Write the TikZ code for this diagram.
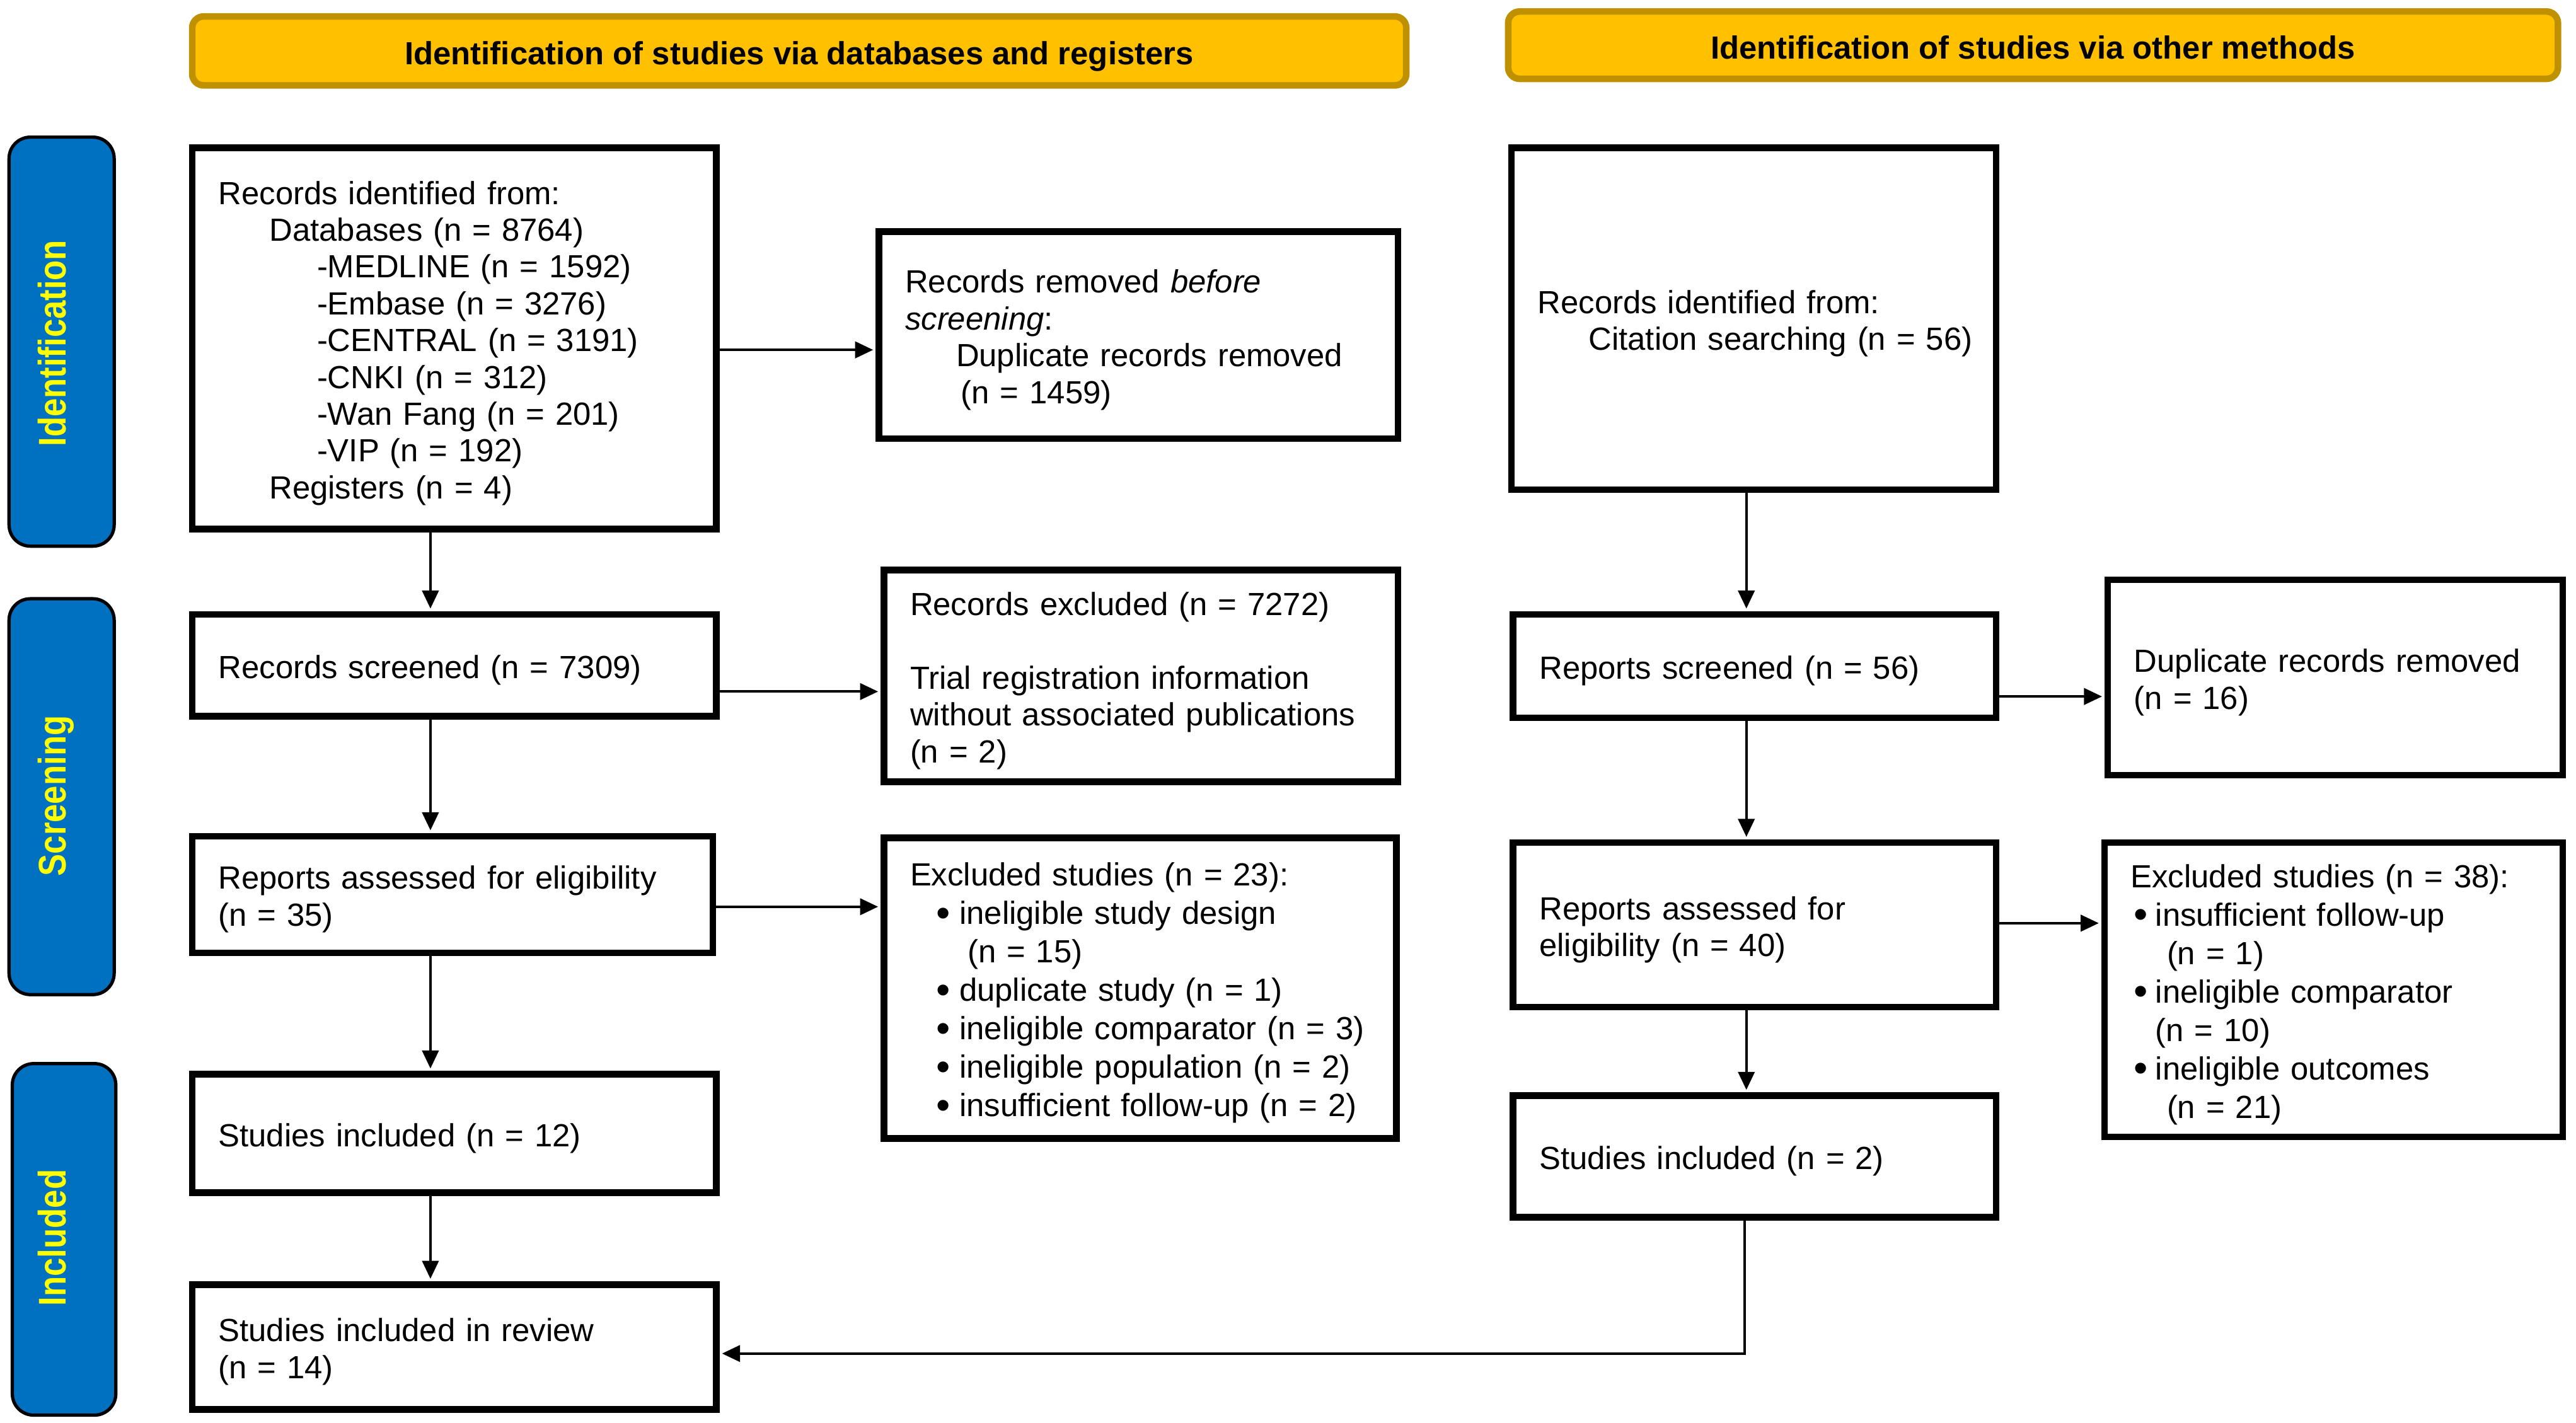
\documentclass[tikz,border=0pt]{standalone}
\usepackage{fontspec}
\usepackage{graphicx}
\setmainfont{Liberation Sans}
\usetikzlibrary{arrows.meta}
\definecolor{hdrfill}{HTML}{FFC000}
\definecolor{hdrline}{HTML}{BF9000}
\definecolor{sideblue}{HTML}{0070C0}
\definecolor{sideyellow}{HTML}{FFFF00}
\newcommand{\bul}{\raisebox{-1.4pt}{\scalebox{1.25}{•}}}
\begin{document}
\begin{tikzpicture}[x=1pt,y={(0pt,-1pt)},
  bx/.style={draw, line width=4pt, align=left, inner xsep=16pt, inner ysep=0pt,
    font=\fontsize{19.5}{22.4}\selectfont, execute at begin node={\rule{0pt}{20pt}}},
  bxl/.style={bx, font=\fontsize{19.5}{23.4}\selectfont},
  hdr/.style={draw=hdrline, fill=hdrfill, line width=4pt, rounded corners=7pt,
    font=\fontsize{19.5}{22}\selectfont\bfseries, inner sep=0pt,
    text height=17pt, text depth=0pt},
  side/.style={draw=black, line width=2pt, fill=sideblue, rounded corners=13pt, inner sep=0pt},
  sidetxt/.style={rotate=90, anchor=base, text=sideyellow,
    font=\fontsize{23.5}{26}\selectfont\bfseries, inner sep=0pt},
  arr/.style={line width=1.6pt, -{Triangle[length=11pt,width=10pt]}, shorten >=1.5pt}
]
\useasboundingbox (0,0) rectangle (1568,866);

% headers
\node[hdr, minimum width=739pt, minimum height=42pt] (h1) at (486.5,31)
  {Identification of studies via databases and registers};
\node[hdr, minimum width=639pt, minimum height=41pt] (h2) at (1237.5,27.5)
  {Identification of studies via other methods};

% side bars
\node[side, minimum width=64pt, minimum height=249pt] (s1) at (37.5,208) {};
\node[side, minimum width=64pt, minimum height=241pt] (s2) at (37.5,485) {};
\node[side, minimum width=63pt, minimum height=214pt] (s3) at (39,754.5) {};
\node[sidetxt] (t1) at (40,209) {\scalebox{0.86}[1]{Identification}};
\node[sidetxt] (t2) at (40,484.5) {\scalebox{0.86}[1]{Screening}};
\node[sidetxt] (t3) at (40,753.5) {\scalebox{0.86}[1]{Included}};

% left column
\node[bx, minimum width=319pt, minimum height=232pt, text width=287pt] (A) at (276.5,206)
  {Records identified from:\\
   \hspace*{31pt}Databases (n = 8764)\\
   \hspace*{60pt}-MEDLINE (n = 1592)\\
   \hspace*{60pt}-Embase (n = 3276)\\
   \hspace*{60pt}-CENTRAL (n = 3191)\\
   \hspace*{60pt}-CNKI (n = 312)\\
   \hspace*{60pt}-Wan Fang (n = 201)\\
   \hspace*{60pt}-VIP (n = 192)\\
   \hspace*{31pt}Registers (n = 4)};
\node[bx, minimum width=316pt, minimum height=126pt, text width=284pt] (B) at (693,204)
  {\mbox{Records removed \textit{before}}\\
   \textit{screening}:\\
   \hspace*{31pt}\mbox{Duplicate records removed}\\
   \hspace*{34pt}(n = 1459)};
\node[bx, minimum width=319pt, minimum height=62pt, text width=287pt] (C) at (276.5,405)
  {Records screened (n = 7309)};
\node[bx, minimum width=313pt, minimum height=129pt, text width=281pt] (D) at (694.5,411.5)
  {\mbox{Records excluded (n = 7272)}\\[22.4pt]
   \mbox{Trial registration information}\\
   \mbox{without associated publications}\\
   (n = 2)};
\node[bx, minimum width=317pt, minimum height=71pt, text width=285pt] (E) at (275.5,544.5)
  {\mbox{Reports assessed for eligibility}\\
   (n = 35)};
\node[bxl, minimum width=312pt, minimum height=183pt, text width=280pt] (F) at (694,601.5)
  {\mbox{Excluded studies (n = 23):}\\
   \hspace*{16pt}\makebox[14pt][l]{\bul}\mbox{ineligible study design}\\
   \hspace*{35pt}(n = 15)\\
   \hspace*{16pt}\makebox[14pt][l]{\bul}\mbox{duplicate study (n = 1)}\\
   \hspace*{16pt}\makebox[14pt][l]{\bul}\mbox{ineligible comparator (n = 3)}\\
   \hspace*{16pt}\makebox[14pt][l]{\bul}\mbox{ineligible population (n = 2)}\\
   \hspace*{16pt}\makebox[14pt][l]{\bul}\mbox{insufficient follow-up (n = 2)}};
\node[bx, minimum width=319pt, minimum height=72pt, text width=287pt] (G) at (276.5,690)
  {Studies included (n = 12)};
\node[bx, minimum width=319pt, minimum height=76pt, text width=287pt] (H) at (276.5,820)
  {Studies included in review\\
   (n = 14)};

% right column
\node[bx, minimum width=295pt, minimum height=208pt, text width=263pt] (I) at (1067.5,194)
  {Records identified from:\\
   \hspace*{31pt}\mbox{Citation searching (n = 56)}};
\node[bx, minimum width=294pt, minimum height=63pt, text width=262pt] (J) at (1068,405.5)
  {Reports screened (n = 56)};
\node[bx, minimum width=277pt, minimum height=119pt, text width=245pt] (K) at (1421.5,412.5)
  {\mbox{Duplicate records removed}\\
   (n = 16)};
\node[bx, minimum width=294pt, minimum height=100pt, text width=262pt] (L) at (1068,563)
  {Reports assessed for\\
   eligibility (n = 40)};
\node[bxl, minimum width=279pt, minimum height=179pt, text width=247pt] (M) at (1420.5,602.5)
  {\mbox{Excluded studies (n = 38):}\\
   \hspace*{2pt}\makebox[13pt][l]{\bul}\mbox{insufficient follow-up}\\
   \hspace*{22pt}(n = 1)\\
   \hspace*{2pt}\makebox[13pt][l]{\bul}\mbox{ineligible comparator}\\
   \hspace*{15pt}(n = 10)\\
   \hspace*{2pt}\makebox[13pt][l]{\bul}\mbox{ineligible outcomes}\\
   \hspace*{22pt}(n = 21)};
\node[bx, minimum width=294pt, minimum height=74pt, text width=262pt] (N) at (1068,704)
  {Studies included (n = 2)};

% helper coordinates
\coordinate (lx) at (262,0);
\coordinate (rx) at (1063,0);
\coordinate (nx) at (1062,0);
\coordinate (y1) at (0,213);
\coordinate (y2) at (0,421);
\coordinate (y3) at (0,552);
\coordinate (y4) at (0,424);
\coordinate (y5) at (0,562);
\coordinate (y6) at (0,824);

% connectors
\draw[arr] (A.south -| lx) -- (C.north -| lx);
\draw[arr] (C.south -| lx) -- (E.north -| lx);
\draw[arr] (E.south -| lx) -- (G.north -| lx);
\draw[arr] (G.south -| lx) -- (H.north -| lx);
\draw[arr] (A.east |- y1) -- (B.west |- y1);
\draw[arr] (C.east |- y2) -- (D.west |- y2);
\draw[arr] (E.east |- y3) -- (F.west |- y3);
\draw[arr] (I.south -| rx) -- (J.north -| rx);
\draw[arr] (J.south -| rx) -- (L.north -| rx);
\draw[arr] (L.south -| rx) -- (N.north -| rx);
\draw[arr] (J.east |- y4) -- (K.west |- y4);
\draw[arr] (L.east |- y5) -- (M.west |- y5);
\draw[arr] (N.south -| nx) |- (H.east |- y6);
\end{tikzpicture}
\end{document}
